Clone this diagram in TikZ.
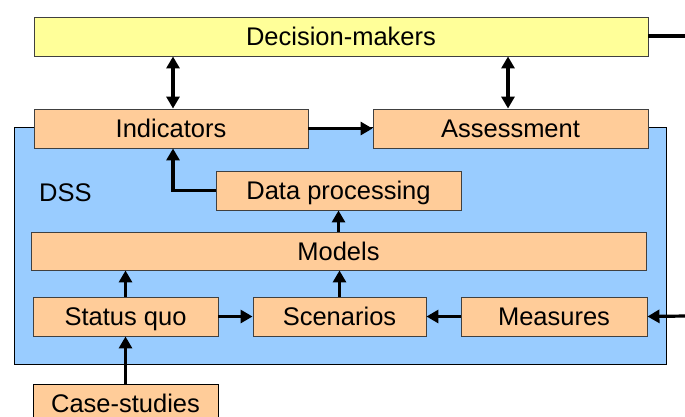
\documentclass[tikz,border=0pt]{standalone}
\usepackage{fontspec}
\setmainfont{Liberation Sans}
\usetikzlibrary{arrows.meta}
\definecolor{dmyellow}{HTML}{FFFF99}
\definecolor{boxorange}{HTML}{FFCC99}
\definecolor{dssblue}{HTML}{99CCFF}
\definecolor{edge}{HTML}{404040}
\tikzset{
  txt/.style={font=\fontsize{25.5}{28}\selectfont, text height=18pt, text depth=0pt},
  blk/.style={txt, draw=edge, line width=0.9pt, fill=boxorange, minimum height=39pt, inner sep=0pt},
  arr/.style={line width=3.2pt, -{Triangle[length=12pt,width=13pt]}},
  darr/.style={line width=3.2pt, {Triangle[length=12pt,width=13pt]}-{Triangle[length=12pt,width=13pt]}},
}
\begin{document}
\begin{tikzpicture}[x=1pt,y=-1pt]
\useasboundingbox (0,0) rectangle (685,416);
\clip (0,0) rectangle (685,416);
\node[draw=black, line width=0.9pt, fill=dssblue, minimum width=652pt, minimum height=237pt, inner sep=0pt] (dss) at (340,245.5) {};
\node[txt, anchor=west, inner sep=0pt] (dsslabel) at (39,192) {DSS};
\node[blk, fill=dmyellow, minimum width=614pt] (dm) at (341,36.5) {Decision-makers};
\node[blk, minimum width=274pt] (ind) at (171,128.5) {Indicators};
\node[blk, minimum width=275pt] (ass) at (510.5,128.5) {Assessment};
\node[blk, minimum width=245pt] (dp) at (338.5,190.5) {Data processing};
\node[blk, minimum width=615pt, minimum height=38pt] (mod) at (338.5,251) {Models};
\node[blk, minimum width=185pt] (sq) at (125.5,316.5) {Status quo};
\node[blk, minimum width=173pt] (sc) at (339.5,316.5) {Scenarios};
\node[blk, minimum width=186pt] (ms) at (554,316.5) {Measures};
\node[blk, draw=black, minimum width=185pt] (cs) at (125.5,403.5) {Case-studies};
\coordinate (outtop) at (686,36);
\coordinate (outbot) at (686,316);
\coordinate (indtop) at ([xshift=2pt]ind.north);
\coordinate (indbot) at ([xshift=2pt]ind.south);
\coordinate (asstop) at ([xshift=-2.5pt]ass.north);
% connectors
\draw[darr] (indtop) -- (dm.south -| indtop);
\draw[darr] (asstop) -- (dm.south -| asstop);
\draw[arr] (ind.east) -- (ass.west);
\draw[arr] (dp.west) -| (indbot);
\draw[arr] (mod.north -| dp.south) -- (dp.south);
\draw[arr] (sq.north) -- (sq.north |- mod.south);
\draw[arr] (sc.north) -- (sc.north |- mod.south);
\draw[arr] (sq.east) -- (sc.west);
\draw[arr] (ms.west) -- (sc.east);
\draw[arr] (outbot) -- (ms.east);
\draw[line width=3.2pt] (dm.east |- outtop) -- (outtop);
\draw[arr] (cs.north) -- (sq.south);
\end{tikzpicture}
\end{document}
